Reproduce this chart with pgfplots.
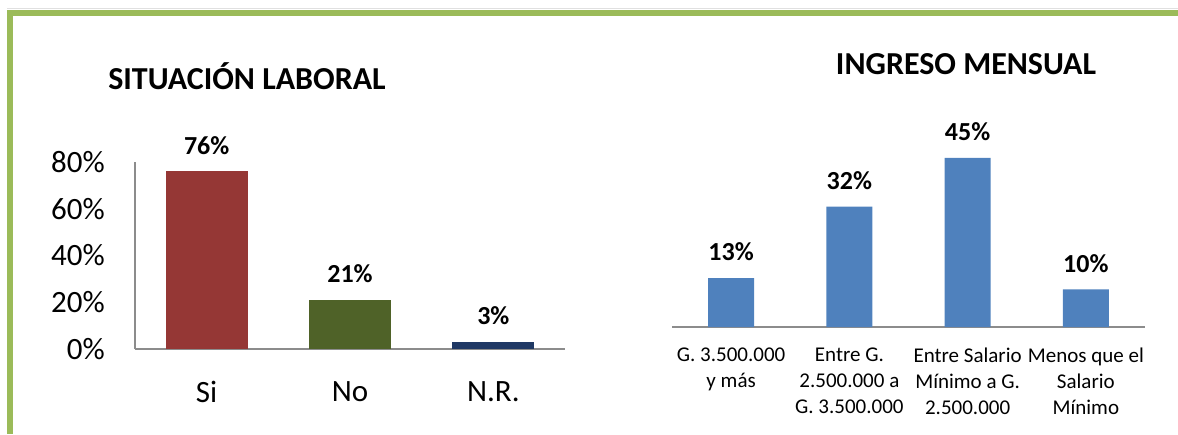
\documentclass[border=0pt]{standalone}
\usepackage{pgfplots}
\pgfplotsset{compat=1.18}
\usepackage{fontspec}
\setmainfont{Carlito}
\definecolor{frame}{HTML}{9BBB59}
\definecolor{siC}{HTML}{953735}
\definecolor{noC}{HTML}{4F6228}
\definecolor{nrC}{HTML}{1F3864}
\definecolor{blueC}{HTML}{4F81BD}
\definecolor{axC}{HTML}{8C8C8C}
\pgfplotsset{/pgf/number format/assume math mode=true}
\begin{document}
\begin{tikzpicture}[x=1pt,y=1pt]
\path[use as bounding box] (0,0) rectangle (1178,434);
\fill[black!12] (7,425) rectangle (1178,425.8);
\fill[frame] (7,424) rectangle (1178,417.7);
\fill[frame] (7,0) rectangle (13.3,424);
\node[font=\fontsize{32}{34}\selectfont\bfseries, anchor=base, inner sep=0pt] at (247,344) {SITUACIÓN LABORAL};
\node[font=\fontsize{32}{34}\selectfont\bfseries, anchor=base, inner sep=0pt] at (966,359) {INGRESO MENSUAL};
\begin{axis}[at={(135pt,85pt)}, anchor=south west, scale only axis,
  width=430pt, height=187pt, clip=false,
  xmin=-0.5, xmax=2.5, ymin=0, ymax=80,
  axis x line*=bottom, axis y line*=left,
  axis line style={draw=axC, line width=1.2pt, -},
  major tick length=0pt,
  ytick={0,20,40,60,80}, yticklabels={0\%,20\%,40\%,60\%,80\%},
  xtick={0,1,2}, xticklabels={Si,No,N.R.},
  tick label style={font=\fontsize{31}{33}\selectfont, inner sep=0pt},
  yticklabel style={anchor=east, xshift=-30pt},
  xticklabel style={anchor=center, yshift=-43pt},
  ybar, bar width=82pt, bar shift=0pt,
  nodes near coords={\pgfmathprintnumber{\pgfplotspointmeta}\%},
  every node near coord/.style={anchor=center, inner sep=0pt, yshift=26pt, font=\fontsize{26}{28}\selectfont\bfseries, black},
]
\addplot[fill=siC, draw=none] coordinates {(0,76)};
\addplot[fill=noC, draw=none] coordinates {(1,21)};
\addplot[fill=nrC, draw=none] coordinates {(2,3)};
\end{axis}
\begin{axis}[at={(672pt,107pt)}, anchor=south west, scale only axis,
  width=473pt, height=188pt, clip=false,
  xmin=-0.5, xmax=3.5, ymin=0, ymax=50,
  axis x line*=bottom, axis y line=none,
  axis line style={draw=axC, line width=1.2pt, -},
  major tick length=0pt,
  xtick={0,1,2,3},
  xticklabels={{G. 3.500.000\\y más},{Entre G.\\2.500.000 a\\G. 3.500.000},{Entre Salario\\Mínimo a G.\\2.500.000},{Menos que el\\Salario\\Mínimo}},
  xticklabel style={font=\fontsize{21}{26}\selectfont, align=center, anchor=north, inner sep=0pt, yshift=-21pt},
  ybar, bar width=46pt, bar shift=0pt,
  nodes near coords={\pgfmathprintnumber{\pgfplotspointmeta}\%},
  every node near coord/.style={anchor=center, inner sep=0pt, yshift=26pt, font=\fontsize{26}{28}\selectfont\bfseries, black},
]
\addplot[fill=blueC, draw=none] coordinates {(0,13) (1,32) (2,45) (3,10)};
\end{axis}
\end{tikzpicture}
\end{document}
